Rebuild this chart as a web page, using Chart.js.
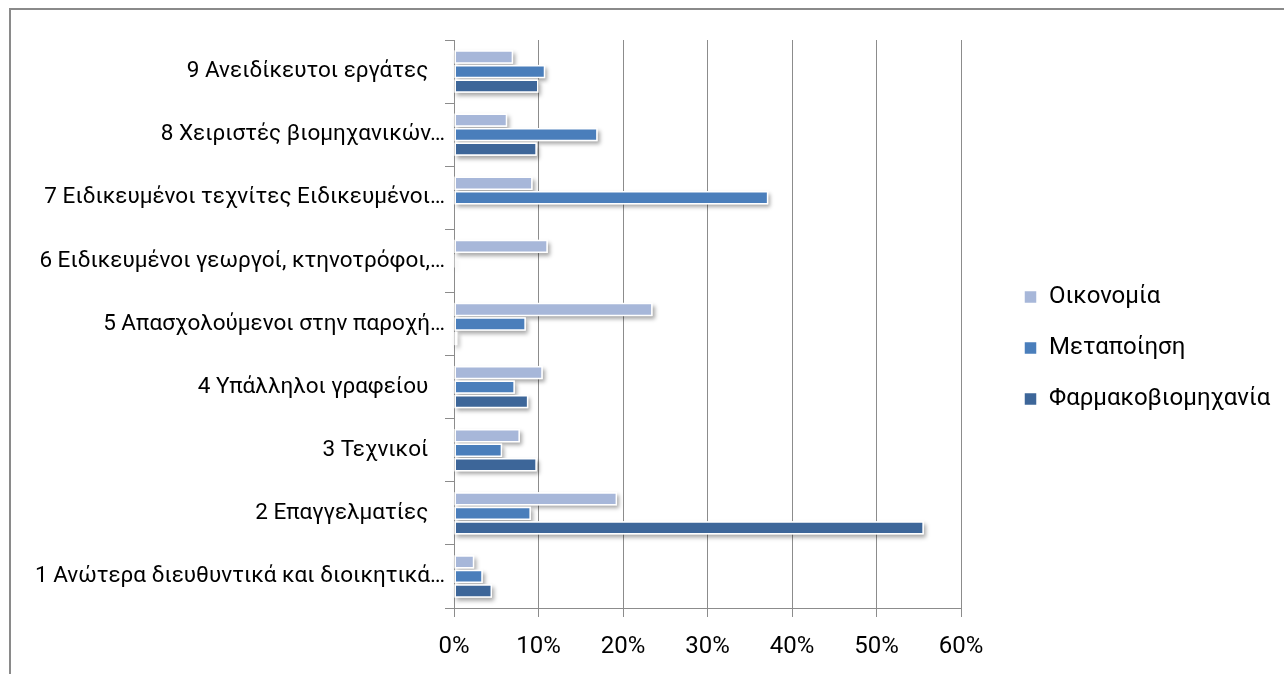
<!DOCTYPE html>
<html lang="el">
<head>
<meta charset="utf-8">
<title>Επαγγελματικές ομάδες: Οικονομία, Μεταποίηση, Φαρμακοβιομηχανία</title>
<script src="https://cdn.jsdelivr.net/npm/chart.js@4.4.1/dist/chart.umd.min.js"></script>
<style>
  html, body { margin: 0; padding: 0; background: #fff; }
  #wrap { position: relative; width: 1284px; height: 674px; overflow: hidden; }
  #frame {
    position: absolute; left: 9px; top: 8px; right: -4px; bottom: -4px;
    border-left: 2px solid #8a8a8a; border-top: 2px solid #8a8a8a;
  }
  canvas { position: absolute; left: 0; top: 0; }
</style>
</head>
<body>
<div id="wrap">
  <div id="frame"></div>
  <canvas id="chart" width="1284" height="674"></canvas>
</div>
<script>
// occupational groups, listed top to bottom (trailing spaces kept as in the labels)
const categories = [
  '9 Ανειδίκευτοι εργάτες   ',
  '8 Χειριστές βιομηχανικών…',
  '7 Ειδικευμένοι τεχνίτες Ειδικευμένοι…',
  '6 Ειδικευμένοι γεωργοί, κτηνοτρόφοι,…',
  '5 Απασχολούμενοι στην παροχή…',
  '4 Υπάλληλοι γραφείου   ',
  '3 Τεχνικοί   ',
  '2 Επαγγελματίες   ',
  '1 Ανώτερα διευθυντικά και διοικητικά…'
];

// share of employment per group, %
const oikonomia = [7.0, 6.3, 9.3, 11.1, 23.5, 10.5, 7.8, 19.3, 2.4];
const metapoiisi = [10.8, 17.0, 37.2, 0.1, 8.5, 7.2, 5.7, 9.1, 3.4];
const farmakoviomichania = [10.0, 9.8, 0, 0, 0.4, 8.8, 9.8, 55.6, 4.5];

const xTicks = [0, 10, 20, 30, 40, 50, 60];

const FONT = 'Roboto';
const GRID = '#8c8c8c';

Chart.defaults.font.family = FONT;
Chart.defaults.color = '#000';

// soft drop shadow under every bar
const barShadow = {
  id: 'barShadow',
  beforeDatasetsDraw(chart) {
    const ctx = chart.ctx;
    ctx.save();
    ctx.shadowColor = 'rgba(0, 0, 0, 0.35)';
    ctx.shadowBlur = 4;
    ctx.shadowOffsetX = 2;
    ctx.shadowOffsetY = 3;
    ctx.fillStyle = '#fff';
    chart.data.datasets.forEach((ds, i) => {
      chart.getDatasetMeta(i).data.forEach(bar => {
        const { x, y, base, height } = bar.getProps(['x', 'y', 'base', 'height'], true);
        if (x - base <= 0) return;
        ctx.fillRect(base, y - height / 2, x - base, height);
      });
    });
    ctx.restore();
  }
};

// keep the legend a little away from the plot
const legendSpot = {
  id: 'legendSpot',
  afterLayout(chart) {
    const lg = chart.legend;
    const w = lg.width;
    lg.left = 1024 - lg.options.labels.padding;
    lg.right = lg.left + w;
    lg.top -= 1;
    lg.bottom -= 1;
  }
};

const series = [
  { label: 'Οικονομία', data: oikonomia, color: '#A7B7D9' },
  { label: 'Μεταποίηση', data: metapoiisi, color: '#4A7EBB' },
  { label: 'Φαρμακοβιομηχανία', data: farmakoviomichania, color: '#3D6699' }
];

new Chart(document.getElementById('chart'), {
  type: 'bar',
  data: {
    labels: categories,
    datasets: series.map(s => ({
      label: s.label,
      data: s.data,
      backgroundColor: s.color,
      borderColor: '#fff',
      borderWidth: 1.5,
      borderSkipped: false,
      categoryPercentage: 0.69,
      barPercentage: 0.92
    }))
  },
  options: {
    indexAxis: 'y',
    responsive: false,
    animation: false,
    layout: {
      padding: { top: 40, right: 14, bottom: 16, left: 0 }
    },
    plugins: {
      legend: {
        position: 'right',
        labels: {
          boxWidth: 13,
          boxHeight: 13,
          padding: 27,
          color: '#000',
          font: { size: 24 }
        }
      },
      tooltip: { enabled: false }
    },
    scales: {
      x: {
        min: xTicks[0],
        max: xTicks[xTicks.length - 1],
        afterBuildTicks(scale) {
          scale.ticks = xTicks.map(v => ({ value: v }));
        },
        ticks: {
          callback: v => v + '%',
          color: '#000',
          font: { size: 24 },
          padding: 16
        },
        grid: { color: GRID, tickLength: 9 },
        border: { color: GRID },
        afterFit(scale) {
          scale.height = 50;
          scale.paddingRight = 323;
        }
      },
      y: {
        ticks: {
          autoSkip: false,
          color: '#000',
          font: { size: 22.5 },
          padding: 0
        },
        grid: { drawOnChartArea: false, color: GRID, tickLength: 9 },
        border: { color: GRID },
        afterFit(scale) {
          scale.width = 454;
        }
      }
    }
  },
  plugins: [barShadow, legendSpot]
});
</script>
</body>
</html>
